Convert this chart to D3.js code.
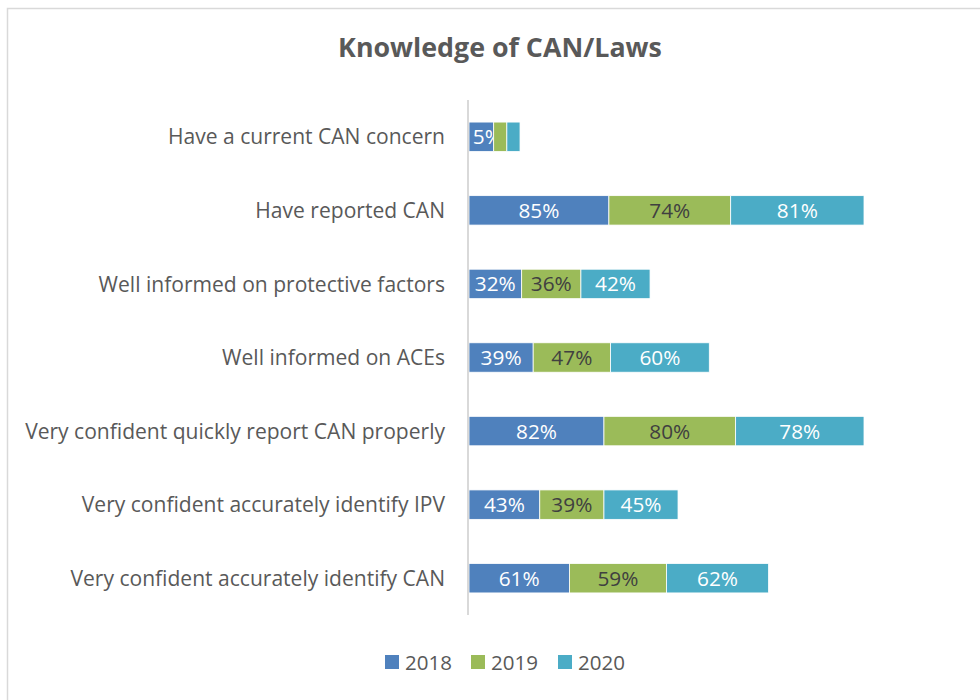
<!DOCTYPE html>
<html><head><meta charset="utf-8">
<script src="https://cdn.jsdelivr.net/npm/d3@7"></script>
<style>body{margin:0;background:#fff;} svg{display:block;}</style>
</head><body>
<svg id="c" width="980" height="700"></svg>
<script>
const categories = ["Have a current CAN concern","Have reported CAN","Well informed on protective factors","Well informed on ACEs","Very confident quickly report CAN properly","Very confident accurately identify IPV","Very confident accurately identify CAN"];
const years = ["2018","2019","2020"];
const v2018 = [15,85,32,39,82,43,61];
const v2019 = [8,74,36,47,80,39,59];
const v2020 = [8,81,42,60,78,45,62];
const colors = ["#4F81BD","#9BBB59","#4BACC6"];
const labelColors = ["#ffffff","#404040","#ffffff"];

const font = "'Open Sans', sans-serif";
const svg = d3.select("#c");
function fitSize(str, target, bold){
  const t = svg.append("text").attr("font-family",font).attr("font-size",20)
    .attr("font-weight",bold?"bold":"normal").text(str);
  const w = t.node().getComputedTextLength(); t.remove();
  return 20*target/w;
}
const catSize = fitSize("Very confident quickly report CAN properly", 420);
const titleSize = fitSize("Knowledge of CAN/Laws", 324, true);
const valSize = fitSize("85%", 41);
const legSize = fitSize("2018", 47);

svg.append("rect").attr("x",7.5).attr("y",8.5).attr("width",1000).attr("height",720)
  .attr("fill","#fff").attr("stroke","#d9d9d9").attr("stroke-width",1.5);

svg.append("text").attr("x",500).attr("y",57).attr("text-anchor","middle")
  .attr("font-family",font).attr("font-weight","bold").attr("font-size",titleSize)
  .attr("fill","#595959").text("Knowledge of CAN/Laws");

const x0=469;
const x = d3.scaleLinear().domain([0,240]).range([x0,864]);
const y = d3.scaleBand().domain(categories).range([100,615]).paddingInner(0.6).paddingOuter(0.3);

const data = categories.map((c,i)=>({c, vals:[v2018[i],v2019[i],v2020[i]]}));
const stack = d3.stack().keys([0,1,2]).value((d,k)=>d.vals[k]);
const series = stack(data);

svg.append("clipPath").attr("id","pc").append("rect")
  .attr("x",x0).attr("y",90).attr("width",480).attr("height",540);

const g = svg.append("g").attr("clip-path","url(#pc)");
series.forEach((s,k)=>{
  g.selectAll(null).data(s).enter().append("rect")
    .attr("x",d=>x(d[0])).attr("width",d=>x(d[1])-x(d[0]))
    .attr("y",d=>y(d.data.c)).attr("height",y.bandwidth())
    .attr("fill",colors[k]).attr("stroke","#fff").attr("stroke-width",0.8);
  g.selectAll(null).data(s.filter(d=>d[1]-d[0]>=10)).enter().append("text")
    .attr("x",d=>(x(d[0])+x(d[1]))/2).attr("y",d=>y(d.data.c)+y.bandwidth()/2)
    .attr("dy","0.36em").attr("text-anchor","middle")
    .attr("font-family",font).attr("font-size",valSize).attr("fill",labelColors[k])
    .text(d=>(d[1]-d[0])+"%");
});

svg.append("line").attr("x1",x0-1).attr("x2",x0-1).attr("y1",100).attr("y2",615)
  .attr("stroke","#d9d9d9").attr("stroke-width",2);

svg.selectAll(null).data(categories).enter().append("text")
  .attr("x",445).attr("y",d=>y(d)+y.bandwidth()/2).attr("dy","0.36em")
  .attr("text-anchor","end").attr("font-family",font).attr("font-size",catSize)
  .attr("fill","#595959").text(d=>d);

const legX=[385,471,558];
years.forEach((yr,i)=>{
  svg.append("rect").attr("x",legX[i]).attr("y",655).attr("width",14).attr("height",14).attr("fill",colors[i]);
  svg.append("text").attr("x",legX[i]+20).attr("y",663).attr("dy","0.36em")
    .attr("font-family",font).attr("font-size",legSize).attr("fill","#595959").text(yr);
});
</script>
</body></html>
